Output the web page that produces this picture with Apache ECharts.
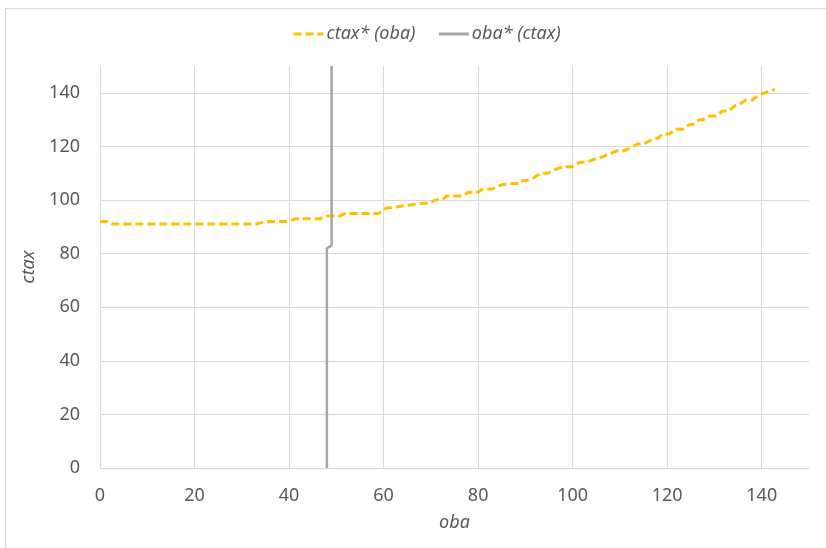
<!DOCTYPE html>
<html>
<head>
<meta charset="utf-8">
<script src="https://cdn.jsdelivr.net/npm/echarts@6/dist/echarts.min.js"></script>
<style>
html,body{margin:0;padding:0;background:#fff;}
#chart{width:826px;height:548px;}
</style>
</head>
<body>
<div id="chart"></div>
<script>
// ctax*(oba) best-response curve
var obaA = [0, 1.5, 2.8, 33, 35, 39.5, 41.5, 46.5, 48, 50.7, 52, 59, 60.6, 63, 65, 68.3, 69.5, 71, 72.4, 73.3, 76.7, 78, 80, 81, 83, 84.5, 86, 88.4, 88.8, 90.2, 91.6, 93, 95, 96, 98, 100, 101.5, 103, 104.4, 105, 106.7, 107, 109.5, 111, 113.7, 115, 117.3, 118, 119, 120.4, 121.9, 123.3, 124.7, 125.4, 126.8, 127.5, 128.9, 130.3, 131.7, 133, 134.5, 135, 136.6, 138, 139.4, 142.8];
var ctaxA = [92, 92, 91, 91, 92, 92, 93, 93, 94, 94, 95, 95, 97, 97.5, 98, 98.8, 98.8, 100, 100, 101.5, 101.5, 102.9, 102.9, 104.1, 104.1, 105.4, 106, 106.2, 107.2, 107.2, 108.1, 109.7, 110.2, 111.2, 112.4, 112.4, 114.1, 114.1, 115.2, 115.2, 116.4, 116.4, 118.4, 118.4, 120.9, 120.9, 123, 123, 124.6, 124.6, 126.4, 126.4, 128.2, 128.2, 129.9, 129.9, 131.3, 131.3, 133.2, 133.2, 135.4, 135.4, 137.3, 137.3, 139.2, 141.3];
// oba*(ctax) best-response curve
var obaB = [48, 48, 49, 49];
var ctaxB = [0, 82, 83, 150];

var xTicks = [0, 20, 40, 60, 80, 100, 120, 140];
var yTicks = [0, 20, 40, 60, 80, 100, 120, 140];
var seriesNames = ['ctax* (oba)', 'oba* (ctax)'];

function zip(a, b) { return a.map(function (v, i) { return [v, b[i]]; }); }

var FONT = 'Noto Sans';
var LBL = '#595959';
var FS = 18;
var chart = echarts.init(document.getElementById('chart'), null, {renderer: 'canvas'});
chart.setOption({
  animation: false,
  backgroundColor: '#fff',
  graphic: [
    {type: 'line', shape: {x1: 5.5, y1: 8.5, x2: 826, y2: 8.5}, style: {stroke: '#D9D9D9', lineWidth: 1}},
    {type: 'line', shape: {x1: 5.5, y1: 8.5, x2: 5.5, y2: 548}, style: {stroke: '#D9D9D9', lineWidth: 1}}
  ],
  legend: {
    top: 20,
    left: 287,
    itemWidth: 30,
    itemHeight: 14,
    itemGap: 22,
    itemStyle: {opacity: 0},
    lineStyle: {width: 3},
    textStyle: {fontFamily: FONT, fontSize: FS, fontStyle: 'italic', color: LBL, padding: [0, 0, 0, -2]},
    data: seriesNames
  },
  grid: {left: 100, right: 17, top: 66, bottom: 80, containLabel: false},
  xAxis: {
    type: 'value', min: 0, max: 150, interval: 20,
    name: 'oba', nameLocation: 'middle', nameGap: 46,
    nameTextStyle: {fontFamily: FONT, fontSize: FS, fontStyle: 'italic', color: LBL},
    axisLine: {show: true, lineStyle: {color: '#D9D9D9', width: 1}},
    axisTick: {show: false},
    axisLabel: {showMaxLabel: false, margin: 19, fontFamily: FONT, fontSize: FS, color: LBL,
      formatter: function (v) { return xTicks.indexOf(v) >= 0 ? String(v) : ''; }},
    splitLine: {show: true, showMaxLine: false, lineStyle: {color: '#D9D9D9', width: 1}}
  },
  yAxis: {
    type: 'value', min: 0, max: 150, interval: 20,
    name: 'ctax', nameLocation: 'middle', nameGap: 54, nameRotate: 90,
    nameTextStyle: {fontFamily: FONT, fontSize: FS, fontStyle: 'italic', color: LBL},
    axisLine: {show: false},
    axisTick: {show: false},
    axisLabel: {showMaxLabel: false, margin: 20, fontFamily: FONT, fontSize: FS, color: LBL,
      formatter: function (v) { return yTicks.indexOf(v) >= 0 ? String(v) : ''; }},
    splitLine: {show: true, showMaxLine: false, lineStyle: {color: '#D9D9D9', width: 1}}
  },
  series: [
    {
      name: seriesNames[0], type: 'line', data: zip(obaA, ctaxA),
      symbol: 'none', smooth: false, z: 3,
      itemStyle: {color: '#FFC000'},
      lineStyle: {color: '#FFC000', width: 3, type: [8, 4], cap: 'butt'}
    },
    {
      name: seriesNames[1], type: 'line', data: zip(obaB, ctaxB),
      symbol: 'none', smooth: false, z: 4,
      itemStyle: {color: '#A5A5A5'},
      lineStyle: {color: '#A5A5A5', width: 2.5}
    }
  ]
});
</script>
</body>
</html>
